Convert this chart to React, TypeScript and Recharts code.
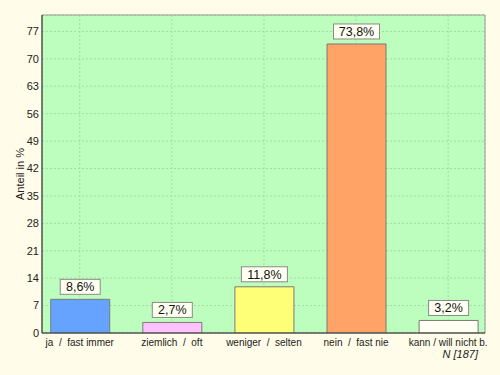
import React from 'react';
import { BarChart, Bar, XAxis, YAxis, CartesianGrid, Cell, LabelList, ReferenceArea } from 'recharts';

const categories = ['ja  /  fast immer', 'ziemlich  /  oft', 'weniger  /  selten', 'nein  /  fast nie', 'kann / will nicht b.'];
const shares = [8.6, 2.7, 11.8, 73.8, 3.2];
const barColors = ['#66a3ff', '#ffc2ff', '#ffff77', '#ffa366', '#fffff2'];
const yTicks = [0, 7, 14, 21, 28, 35, 42, 49, 56, 63, 70, 77];
const sampleNote = 'N [187]';

const data = categories.map((name, i) => ({ idx: i, name, value: shares[i] }));

const font = '"Liberation Sans", Arial, sans-serif';

function ValueLabel(props: any) {
  const { x, y, width, value } = props;
  const text = String(value).replace('.', ',') + '%';
  const w = text.length * 6 + 16;
  const cx = x + width / 2;
  return (
    <g>
      <rect x={cx - w / 2} y={y - 20} width={w} height={15} fill="#fffff2" stroke="#8a8a8a" />
      <text x={cx} y={y - 8} textAnchor="middle" fontSize={12.5} fontFamily={font} fill="#111">{text}</text>
    </g>
  );
}

function CatTick(props: any) {
  const { x, y, payload } = props;
  return (
    <text x={x} y={y + 5} textAnchor="middle" fontSize={10} fontFamily={font} fill="#222" style={{ whiteSpace: 'pre' }}>
      {categories[payload.value]}
    </text>
  );
}

export default function App() {
  return (
    <div style={{ position: 'absolute', left: 0, top: 0, width: 500, height: 375, background: '#fffde9' }}>
      <BarChart width={500} height={375} data={data} margin={{ top: 15, right: 15, bottom: 0, left: 0 }}>
        <CartesianGrid fill="#bdfdbd" stroke="#a3dca3" strokeDasharray="2 2" />
        <XAxis
          dataKey="idx"
          type="number"
          domain={[-0.41, 4.4]}
          ticks={[0, 1, 2, 3, 4]}
          tick={<CatTick />}
          tickLine={false}
          axisLine={{ stroke: '#333' }}
          height={42}
          allowDataOverflow
        />
        <YAxis
          type="number"
          domain={[0, 81.2]}
          ticks={yTicks}
          width={42}
          tickLine={false}
          tickSize={3}
          tickMargin={0}
          axisLine={{ stroke: '#333' }}
          tick={{ fontSize: 11, fontFamily: font, fill: '#222' }}
          allowDataOverflow
          label={{ value: 'Anteil in %', angle: -90, position: 'insideLeft', offset: 20, style: { fontSize: 11, fontFamily: font, fill: '#222', textAnchor: 'middle' } }}
        />
        <ReferenceArea x1={-0.41} x2={4.4} y1={0} y2={81.2} fill="none" stroke="#999" />
        <Bar dataKey="value" barSize={59} stroke="#7a7a7a" isAnimationActive={false}>
          {data.map((d, i) => (
            <Cell key={d.name} fill={barColors[i]} />
          ))}
          <LabelList dataKey="value" content={<ValueLabel />} />
        </Bar>
      </BarChart>
      <div style={{ position: 'absolute', right: 22, top: 348, fontSize: 11, fontFamily: font, fontStyle: 'italic', color: '#222' }}>
        {sampleNote}
      </div>
    </div>
  );
}
